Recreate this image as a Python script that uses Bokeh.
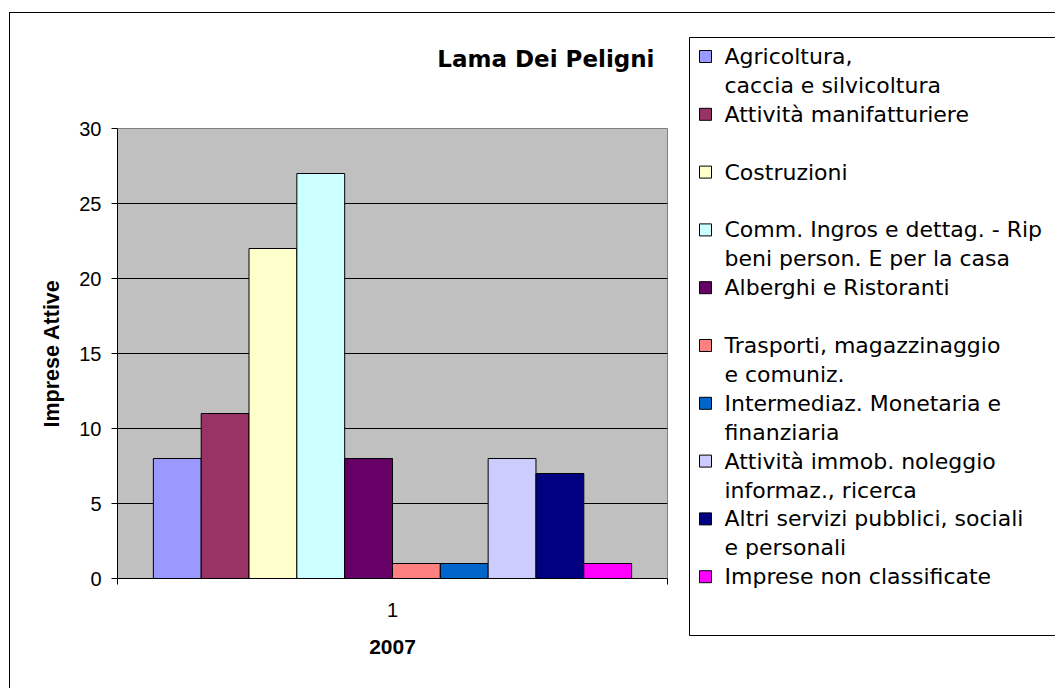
from bokeh.plotting import figure
from bokeh.layouts import row
from bokeh.models import Range1d, FixedTicker, ColumnDataSource, LinearAxis, Label
from bokeh.core.properties import value
from bokeh.embed import file_html
from bokeh.resources import INLINE

# ---------------- data ----------------
chart_title = "Lama Dei Peligni"
x_title = "2007"
y_title = "Imprese Attive"
category_label = "1"
series_names = [
    "Agricoltura,\ncaccia e silvicoltura",
    "Attività manifatturiere",
    "Costruzioni",
    "Comm. Ingros e dettag. - Rip\nbeni person. E per la casa",
    "Alberghi e Ristoranti",
    "Trasporti, magazzinaggio\ne comuniz.",
    "Intermediaz. Monetaria e\nfinanziaria",
    "Attività immob. noleggio\ninformaz., ricerca",
    "Altri servizi pubblici, sociali\ne personali",
    "Imprese non classificate",
]
values = [8, 11, 22, 27, 8, 1, 1, 8, 7, 1]
colors = ["#9999FF", "#993366", "#FFFFCC", "#CCFFFF", "#660066",
          "#FF8080", "#0066CC", "#CCCCFF", "#000080", "#FF00FF"]
y_ticks = [0, 5, 10, 15, 20, 25, 30]
y_min, y_max = 0, 30

# ---------------- layout (page pixels) ----------------
ARIAL = "Liberation Sans"
WIDE = "DejaVu Sans"
ORIGIN_X, ORIGIN_Y = 10, 13            # inside the outer chart border
PAGE_W, PAGE_H = 1055, 688
FRAME_L, FRAME_T, FRAME_R, FRAME_B = 117, 128, 667, 578   # plot area
cat_lo, cat_hi = -0.5, 0.5             # band of the single category
GAP = 1.5                              # Excel gap width (x bar width)
n = len(values)
bar_w = (cat_hi - cat_lo) / (n + GAP)


def dx(X):
    return cat_lo + (X - FRAME_L) * (cat_hi - cat_lo) / (FRAME_R - FRAME_L)


def dy(Y):
    return y_min + (FRAME_B - Y) * (y_max - y_min) / (FRAME_B - FRAME_T)


p = figure(
    frame_width=PAGE_W - ORIGIN_X, frame_height=PAGE_H - ORIGIN_Y, min_border=0,
    x_range=Range1d(dx(ORIGIN_X), dx(PAGE_W)), y_range=Range1d(dy(PAGE_H), dy(ORIGIN_Y)),
    x_axis_location=None, y_axis_location=None,
    output_backend="svg", toolbar_location=None,
)
p.grid.visible = False
p.outline_line_color = None
p.background_fill_color = "white"
p.border_fill_color = "white"

# plot area
p.quad(left=[cat_lo], right=[cat_hi], bottom=[y_min], top=[y_max],
       fill_color="#C0C0C0", line_color="#808080", line_width=1)
grid_vals = y_ticks[1:-1]
p.segment(x0=[cat_lo] * len(grid_vals), x1=[cat_hi] * len(grid_vals),
          y0=grid_vals, y1=grid_vals, line_color="black", line_width=1)

# bars
src = ColumnDataSource(dict(
    x=[(cat_lo + cat_hi) / 2 + (i - (n - 1) / 2) * bar_w for i in range(n)],
    top=values,
    color=colors,
))
p.vbar(x="x", top="top", bottom=y_min, width=bar_w, source=src,
       fill_color="color", line_color="black", line_width=1)

# y axis
ya = LinearAxis(fixed_location=cat_lo, bounds=(y_min, y_max),
                ticker=FixedTicker(ticks=y_ticks, minor_ticks=[]))
ya.major_tick_in = 0
ya.major_tick_out = 6
ya.minor_tick_in = 0
ya.minor_tick_out = 0
ya.axis_line_color = "black"
ya.major_tick_line_color = "black"
ya.major_label_text_font = ARIAL
ya.major_label_text_font_size = "20px"
ya.major_label_text_color = "black"
ya.major_label_standoff = 10
ya.axis_label = y_title
ya.axis_label_text_font = ARIAL
ya.axis_label_text_font_style = "bold"
ya.axis_label_text_font_size = "21.5px"
ya.axis_label_text_color = "black"
ya.axis_label_standoff = 12
p.add_layout(ya, "left")

# x axis
xa = LinearAxis(fixed_location=y_min, bounds=(cat_lo, cat_hi),
                ticker=FixedTicker(ticks=[(cat_lo + cat_hi) / 2], minor_ticks=[cat_lo, cat_hi]))
xa.major_label_overrides = {(cat_lo + cat_hi) / 2: category_label}
xa.major_tick_in = 0
xa.major_tick_out = 0
xa.minor_tick_in = 0
xa.minor_tick_out = 6
xa.minor_tick_line_color = "black"
xa.axis_line_color = "black"
xa.major_label_text_font = ARIAL
xa.major_label_text_font_size = "20px"
xa.major_label_text_color = "black"
xa.major_label_standoff = 18
xa.axis_label = x_title
xa.axis_label_text_font = ARIAL
xa.axis_label_text_font_style = "bold"
xa.axis_label_text_font_size = "21px"
xa.axis_label_text_color = "black"
xa.axis_label_standoff = 20
p.add_layout(xa, "below")

# title
p.add_layout(Label(x=dx(654), y=dy(58), text=chart_title, text_align="right",
                   text_baseline="alphabetic", text_font=WIDE, text_font_size="23px",
                   text_font_style="bold", text_color="black"))

# legend
BOX_L, BOX_T, BOX_B = 689, 37, 635
p.quad(left=[dx(BOX_L)], right=[dx(PAGE_W + 20)], top=[dy(BOX_T)], bottom=[dy(BOX_B)],
       fill_color="white", line_color="black", line_width=1)

LINE0, LINE_PITCH = 56, 28.9          # every entry takes two text lines
SW_L, SW_SIZE, TXT_X = 699, 12, 724
sw = dict(left=[], right=[], top=[], bottom=[], color=[])
tx = dict(x=[], y=[], text=[])
for i, (name, c) in enumerate(zip(series_names, colors)):
    cy = LINE0 + LINE_PITCH * 2 * i
    sw["left"].append(dx(SW_L))
    sw["right"].append(dx(SW_L + SW_SIZE))
    sw["top"].append(dy(cy - SW_SIZE / 2))
    sw["bottom"].append(dy(cy + SW_SIZE / 2))
    sw["color"].append(c)
    for j, line in enumerate(name.split("\n")):
        tx["x"].append(dx(TXT_X))
        tx["y"].append(dy(cy + LINE_PITCH * j))
        tx["text"].append(line)
p.quad(left="left", right="right", top="top", bottom="bottom",
       fill_color="color", line_color="black", line_width=1,
       source=ColumnDataSource(sw))
p.text(x="x", y="y", text="text", source=ColumnDataSource(tx),
       text_align="left", text_baseline="middle",
       text_font=value(WIDE), text_font_size=value("22px"), text_color="black")

root = row(p, margin=(ORIGIN_Y - 1, 0, 0, ORIGIN_X - 1),
           styles={"border-top": "1px solid black", "border-left": "1px solid black"})

open("out.html", "w").write(file_html(root, INLINE))
